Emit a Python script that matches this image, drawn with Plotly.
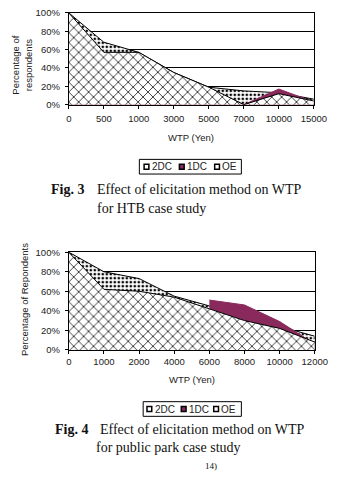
import plotly.graph_objects as go

W, H = 344, 478

# ---------------- data ----------------
cats1 = ["0", "500", "1000", "3000", "5000", "7000", "10000", "15000"]
dc2_1 = [100, 68, 57, 35, 19, 15, 13, 6]
dc1_1 = [100, 55, 55, 33, 17, 0, 17, 3]
oe_1 = [100, 57, 57, 35, 19, 0, 12, 4]

cats2 = ["0", "1000", "2000", "4000", "6000", "8000", "10000", "12000"]
dc2_2 = [100, 80, 73, 55, 45, 34, 24, 14]
dc1_2 = [None, None, None, None, 51, 46, 29, 6]
oe_2 = [100, 62, 60, 54, 42, 30, 22, 8]

ytickvals = [0, 20, 40, 60, 80, 100]
yticktext = ["0%", "20%", "40%", "60%", "80%", "100%"]
series_names = ["2DC", "1DC", "OE"]

MAROON = "#8a2a5c"


def px(x):
    return x / W


def py(y):
    return 1 - y / H


fig = go.Figure()


def add_chart(cats, dc2, dc1, oe, xa, ya):
    fig.add_trace(go.Scatter(
        x=cats, y=dc2, name=series_names[0], mode="lines", fill="tozeroy",
        line=dict(color="black", width=1),
        fillpattern=dict(shape=".", bgcolor="white", fgcolor="black",
                         size=4, solidity=0.35, fillmode="replace"),
        xaxis=xa, yaxis=ya, showlegend=False, connectgaps=False))
    fig.add_trace(go.Scatter(
        x=cats, y=dc1, name=series_names[1], mode="lines", fill="tozeroy",
        line=dict(color=MAROON, width=1), fillcolor=MAROON,
        xaxis=xa, yaxis=ya, showlegend=False, connectgaps=False))
    fig.add_trace(go.Scatter(
        x=cats, y=oe, name=series_names[2], mode="lines", fill="tozeroy",
        line=dict(color="black", width=1),
        fillpattern=dict(shape="x", bgcolor="white", fgcolor="black",
                         size=7, solidity=0.2, fillmode="replace"),
        xaxis=xa, yaxis=ya, showlegend=False, connectgaps=False))


add_chart(cats1, dc2_1, dc1_1, oe_1, "x", "y")
add_chart(cats2, dc2_2, dc1_2, oe_2, "x2", "y2")

tickfont = dict(family="Liberation Sans, Arial", size=9.5, color="#222")

common_x = dict(type="category", range=[0, 7], showgrid=False, showline=True,
                linecolor="black", linewidth=1, mirror=True, ticks="outside",
                ticklen=3, tickcolor="black", tickfont=tickfont, fixedrange=True)
common_y = dict(range=[0, 100], tickvals=ytickvals, ticktext=yticktext,
                showgrid=True, gridcolor="black", gridwidth=1, showline=True,
                linecolor="black", linewidth=1, mirror=True, ticks="outside",
                ticklen=3, tickcolor="black", tickfont=tickfont, zeroline=False,
                ticklabelstandoff=3, fixedrange=True)

fig.update_layout(
    width=W, height=H, margin=dict(l=0, r=0, t=0, b=0),
    paper_bgcolor="white", plot_bgcolor="white",
    xaxis=dict(common_x, domain=[px(69), px(326)], anchor="y", ticklabelstandoff=2),
    yaxis=dict(common_y, domain=[py(101), py(7)], anchor="x"),
    xaxis2=dict(common_x, domain=[px(69), px(327)], anchor="y2", ticklabelstandoff=0),
    yaxis2=dict(common_y, domain=[py(352), py(252)], anchor="x2"),
    showlegend=False,
)

sans = dict(family="Liberation Sans, Arial", size=9.5, color="#222")
serif = dict(family="Liberation Serif, Times New Roman", size=14, color="#111")


def ann(text, x, y, font, xanchor="center", yanchor="middle", angle=0):
    fig.add_annotation(text=text, x=px(x), y=py(y), xref="paper", yref="paper",
                       showarrow=False, font=font, xanchor=xanchor,
                       yanchor=yanchor, textangle=angle)


# axis titles
ann("Percentage of<br>respondents", 20, 60, sans, angle=-90)
ann("WTP (Yen)", 197, 135, sans)
ann("Percentage of Repondents", 22, 300, sans, angle=-90)
ann("WTP (Yen)", 198, 382, sans)


# legends (boxes + swatches + labels)
def legend_box(x0, x1, y0, y1, items):
    fig.add_shape(type="rect", xref="paper", yref="paper",
                  x0=px(x0), x1=px(x1), y0=py(y1), y1=py(y0),
                  line=dict(color="black", width=1), fillcolor="white")
    yc = (y0 + y1) / 2
    for (sx, name, color) in items:
        fig.add_shape(type="rect", xref="paper", yref="paper",
                      x0=px(sx), x1=px(sx + 5), y0=py(yc + 2.5), y1=py(yc - 2.5),
                      line=dict(color="black", width=1.5), fillcolor=color)
        ann(name, sx + 6, yc, dict(family="Liberation Sans, Arial", size=10, color="#222"),
            xanchor="left")


legend_box(143, 250, 157, 172, [(148, series_names[0], "white"),
                                (185, series_names[1], MAROON),
                                (222, series_names[2], "white")])
legend_box(147, 250, 405, 420, [(151, series_names[0], "white"),
                                (187, series_names[1], MAROON),
                                (221, series_names[2], "white")])

# captions
ann("<b>Fig. 3</b>", 48, 188, serif, xanchor="left")
ann("Effect of elicitation method on WTP", 96, 188, serif, xanchor="left")
ann("for HTB case study", 97, 207, serif, xanchor="left")
ann("<b>Fig. 4</b>", 52, 433, serif, xanchor="left")
ann("Effect of elicitation method on WTP", 100, 433, serif, xanchor="left")
ann("for public park case study", 95, 452, serif, xanchor="left")
ann("14)", 218, 471, dict(family="Liberation Serif", size=9, color="#111"))

fig.write_html("out.html")
